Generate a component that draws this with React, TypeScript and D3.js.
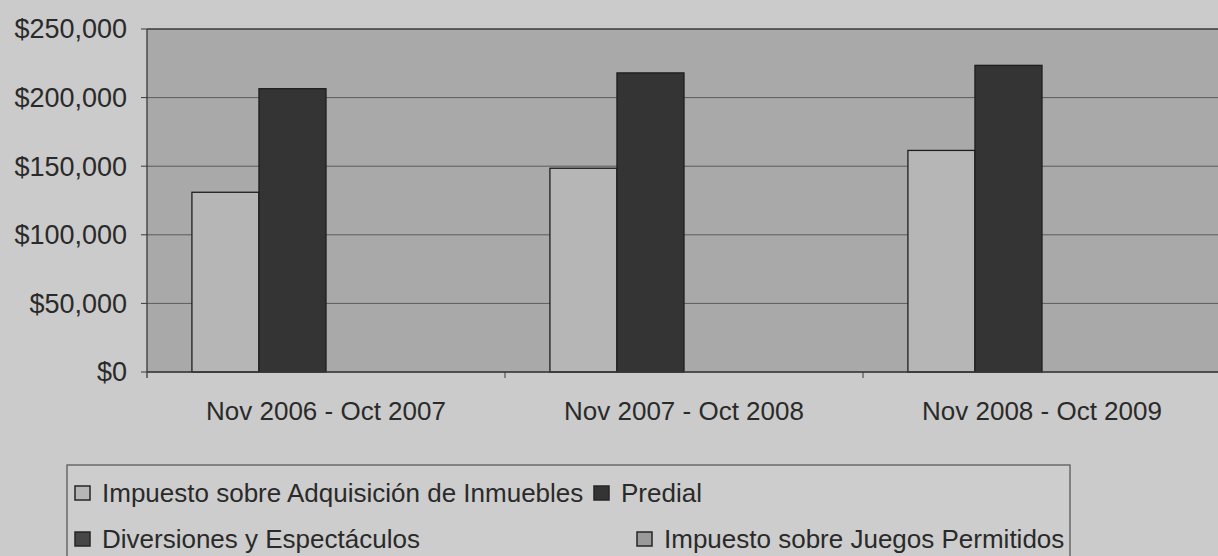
import React from "react"
import { scaleBand, scaleLinear, format } from "d3"

const categories = ["Nov 2006 - Oct 2007", "Nov 2007 - Oct 2008", "Nov 2008 - Oct 2009"]
const seriesNames = [
  "Impuesto sobre Adquisición de Inmuebles",
  "Predial",
  "Diversiones y Espectáculos",
  "Impuesto sobre Juegos Permitidos"
]
const adquisicion = [131000, 148500, 161500]
const predial = [206500, 218000, 223500]
const diversiones = [0, 0, 0]
const juegos = [0, 0, 0]
const yTicks = [0, 50000, 100000, 150000, 200000, 250000]

const seriesValues = [adquisicion, predial, diversiones, juegos]
const seriesColors = ["#b6b6b6", "#343434", "#474747", "#9a9a9a"]

const width = 1218
const height = 556
const plot = { left: 147, top: 29, bottom: 372, band: 358 }
const font = "'Liberation Sans', Arial, sans-serif"
const textColor = "#2a2a2a"

function App() {
  const x0 = scaleBand()
    .domain(categories)
    .range([plot.left, plot.left + plot.band * categories.length])

  const x1 = scaleBand()
    .domain(seriesNames)
    .range([0, x0.bandwidth()])
    .paddingOuter(0.67)

  const yScale = scaleLinear()
    .domain([0, 250000])
    .range([plot.bottom, plot.top])

  const fmt = format("$,.0f")

  // legend layout: row, x of marker
  const legendPos = [
    { x: 75, y: 493 },
    { x: 594, y: 493 },
    { x: 75, y: 539 },
    { x: 637, y: 539 }
  ]

  return (
    <svg width={width} height={height} style={{ position: "absolute", left: 0, top: 0, display: "block" }}>
      <rect x={0} y={0} width={width} height={height} fill="#cbcbcb" />

      {/* plot area */}
      <rect
        x={plot.left}
        y={plot.top}
        width={width - plot.left + 10}
        height={plot.bottom - plot.top}
        fill="#a9a9a9"
      />
      {yTicks.map(t => (
        <g key={t} transform={`translate(0, ${yScale(t)})`}>
          <line x1={plot.left} x2={width} stroke={t === 250000 ? "#3a3a3a" : "#5c5c5c"} strokeWidth={t === 250000 ? 1.6 : 1} />
          <line x1={plot.left - 6} x2={plot.left} stroke="#3a3a3a" />
          <text
            x={127}
            dy="0.35em"
            textAnchor="end"
            fontFamily={font}
            fontSize={27}
            fill={textColor}
          >{fmt(t)}</text>
        </g>
      ))}

      {/* bars */}
      {categories.map((c, i) => (
        <g key={c} transform={`translate(${x0(c)}, 0)`}>
          {seriesNames.map((s, j) => {
            const v = seriesValues[j][i]
            if (!v) return null
            return (
              <rect
                key={s}
                x={x1(s)}
                y={yScale(v)}
                width={x1.bandwidth()}
                height={yScale(0) - yScale(v)}
                fill={seriesColors[j]}
                stroke="#1e1e1e"
                strokeWidth={1.3}
              />
            )
          })}
        </g>
      ))}

      {/* axes */}
      <line x1={plot.left} x2={plot.left} y1={plot.top} y2={plot.bottom + 6} stroke="#3a3a3a" strokeWidth={1.3} />
      <line x1={plot.left} x2={width} y1={plot.bottom} y2={plot.bottom} stroke="#3a3a3a" strokeWidth={1.5} />
      {categories.slice(1).map(c => (
        <line key={c} x1={x0(c)} x2={x0(c)} y1={plot.bottom} y2={plot.bottom + 6} stroke="#3a3a3a" />
      ))}
      {categories.map(c => (
        <text
          key={c}
          x={(x0(c) ?? 0) + x0.bandwidth() / 2}
          y={420}
          textAnchor="middle"
          fontFamily={font}
          fontSize={26}
          fill={textColor}
        >{c}</text>
      ))}

      {/* legend */}
      <rect x={67} y={465} width={1003} height={120} fill="#cdcdcd" stroke="#5a5a5a" strokeWidth={1.3} />
      {seriesNames.map((s, j) => (
        <g key={s} transform={`translate(${legendPos[j].x}, ${legendPos[j].y})`}>
          <rect x={0} y={-7} width={15} height={14} fill={seriesColors[j]} stroke="#262626" strokeWidth={1.5} />
          <text
            x={27}
            dy="0.35em"
            fontFamily={font}
            fontSize={26}
            fill={textColor}
          >{s}</text>
        </g>
      ))}
    </svg>
  )
}

export default App
